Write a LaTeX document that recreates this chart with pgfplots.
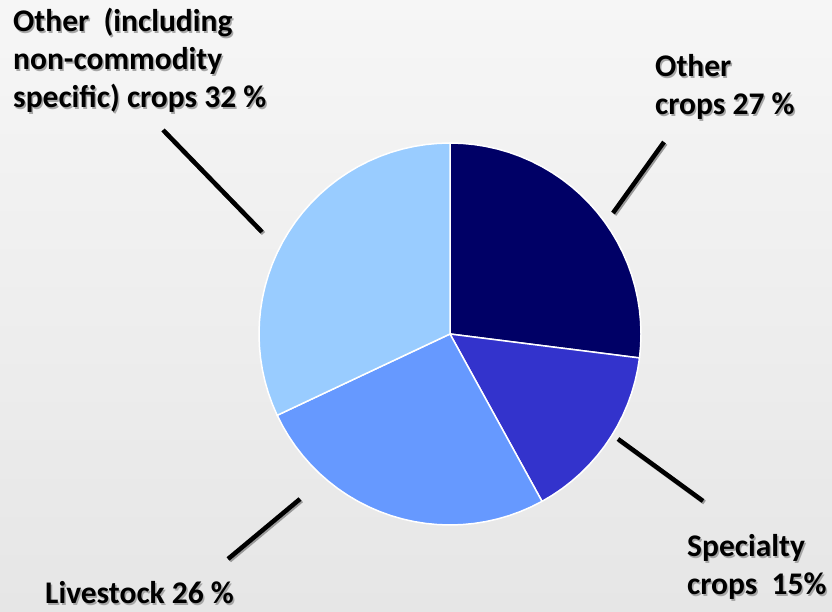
\documentclass[border=0pt]{standalone}
\usepackage{pgfplots}
\pgfplotsset{compat=1.18}
\usepackage{fontspec}
\setmainfont{Carlito}
\definecolor{cA}{HTML}{000066}
\definecolor{cB}{HTML}{3333CC}
\definecolor{cC}{HTML}{6699FF}
\definecolor{cD}{HTML}{99CCFF}
\definecolor{bgtop}{HTML}{F6F6F6}
\definecolor{bgbot}{HTML}{E6E6E6}
\tikzset{lbl/.style={anchor=base west, inner sep=0pt, font=\bfseries\fontsize{31.5}{38}\selectfont},
 shd/.style={lbl, text=black!35}}
\newcommand{\lab}[3]{%
  \node[shd] at (axis cs:#1+1.5,#2-1.5) {#3};
  \node[lbl] at (axis cs:#1,#2) {#3};}
\begin{document}
\begin{tikzpicture}
\begin{axis}[x=1pt, y=1pt, xmin=-450, xmax=382, ymin=-278, ymax=334,
  ticks=none, axis line style={draw=none}, clip=false,
  axis background/.style={shade, top color=bgtop, bottom color=bgbot}]
% Other crops 27 %
\addplot[data cs=polar, fill=cA, draw=white, line width=1.5pt, line join=round] coordinates {
(0,0) (90,191) (86.4,191) (82.8,191) (79.2,191) (75.6,191) (72,191) (68.4,191) (64.8,191) (61.2,191) (57.6,191)
(54,191) (50.4,191) (46.8,191) (43.2,191) (39.6,191) (36,191) (32.4,191) (28.8,191) (25.2,191) (21.6,191)
(18,191) (14.4,191) (10.8,191) (7.2,191) (3.6,191) (0,191) (-3.6,191) (-7.2,191) (0,0)};
% Specialty crops 15 %
\addplot[data cs=polar, fill=cB, draw=white, line width=1.5pt, line join=round] coordinates {
(0,0) (-7.2,191) (-10.8,191) (-14.4,191) (-18,191) (-21.6,191) (-25.2,191) (-28.8,191) (-32.4,191) (-36,191)
(-39.6,191) (-43.2,191) (-46.8,191) (-50.4,191) (-54,191) (-57.6,191) (-61.2,191) (0,0)};
% Livestock 26 %
\addplot[data cs=polar, fill=cC, draw=white, line width=1.5pt, line join=round] coordinates {
(0,0) (-61.2,191) (-64.8,191) (-68.4,191) (-72,191) (-75.6,191) (-79.2,191) (-82.8,191) (-86.4,191) (-90,191)
(-93.6,191) (-97.2,191) (-100.8,191) (-104.4,191) (-108,191) (-111.6,191) (-115.2,191) (-118.8,191) (-122.4,191)
(-126,191) (-129.6,191) (-133.2,191) (-136.8,191) (-140.4,191) (-144,191) (-147.6,191) (-151.2,191) (-154.8,191) (0,0)};
% Other (including non-commodity specific) crops 32 %
\addplot[data cs=polar, fill=cD, draw=white, line width=1.5pt, line join=round] coordinates {
(0,0) (-154.8,191) (-158.4,191) (-162,191) (-165.6,191) (-169.2,191) (-172.8,191) (-176.4,191) (-180,191)
(-183.6,191) (-187.2,191) (-190.8,191) (-194.4,191) (-198,191) (-201.6,191) (-205.2,191) (-208.8,191) (-212.4,191)
(-216,191) (-219.6,191) (-223.2,191) (-226.8,191) (-230.4,191) (-234,191) (-237.6,191) (-241.2,191) (-244.8,191)
(-248.4,191) (-252,191) (-255.6,191) (-259.2,191) (-262.8,191) (-266.4,191) (-270,191) (0,0)};
% leader lines (shadow + line)
\addplot[black!40, line width=4.5pt] coordinates {(164.5,119.5) (215.5,190.5)};
\addplot[black, line width=4.5pt] coordinates {(163,121) (214,192)};
\addplot[black!40, line width=4.5pt] coordinates {(169.5,-106.5) (254.5,-168.5)};
\addplot[black, line width=4.5pt] coordinates {(168,-105) (253,-167)};
\addplot[black!40, line width=4.5pt] coordinates {(-148.5,-166.5) (-220.5,-226.5)};
\addplot[black, line width=4.5pt] coordinates {(-150,-165) (-222,-225)};
\addplot[black!40, line width=4.5pt] coordinates {(-285.5,202.5) (-186.5,100.5)};
\addplot[black, line width=4.5pt] coordinates {(-287,204) (-188,102)};
% labels
\lab{-437}{302}{Other\ \ (including}
\lab{-437}{264}{non-commodity}
\lab{-437}{226}{specific) crops 32 \%}
\lab{205}{257}{Other}
\lab{205}{219}{crops 27 \%}
\lab{237}{-223}{Specialty}
\lab{237}{-261}{crops\ \ 15\%}
\lab{-405}{-270}{Livestock 26 \%}
\end{axis}
\pgfresetboundingbox
\path (current axis.south west) rectangle (current axis.north east);
\end{tikzpicture}
\end{document}
